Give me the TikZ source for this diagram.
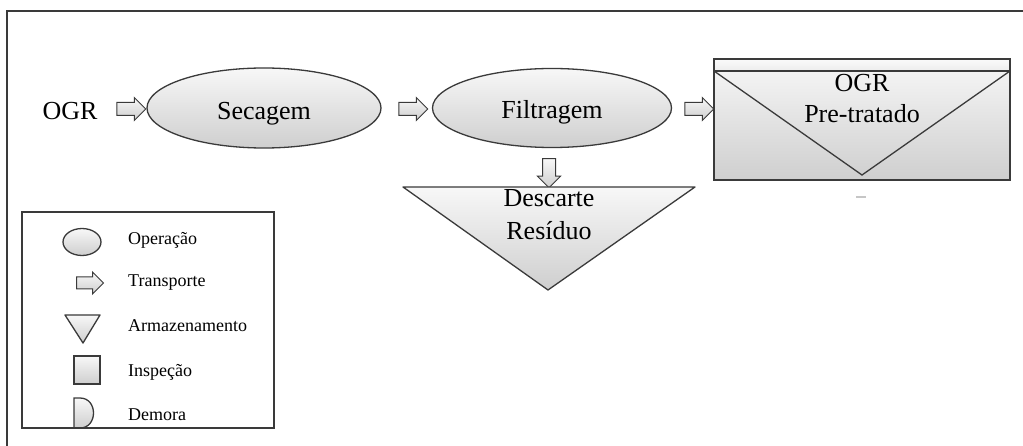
\documentclass[tikz,border=0pt]{standalone}
\usepackage{fontspec}
\setmainfont{Liberation Serif}
\usetikzlibrary{shapes.arrows,shapes.geometric,calc}
\definecolor{edge}{HTML}{3A3A3A}
\tikzset{
  shaded/.style={top color=gray!6, bottom color=gray!38, draw=edge, line width=1.3pt},
  oper/.style={shaded, ellipse, inner sep=0pt},
  transport/.style={single arrow, shaded, line width=1pt, minimum height=29pt,
    inner xsep=0pt, inner ysep=6pt, single arrow head extend=5pt},
  lbl/.style={font=\fontsize{26}{30}\selectfont, anchor=base, inner sep=0pt},
  legtxt/.style={font=\fontsize{18}{20}\selectfont, anchor=base west, inner sep=0pt},
}
\begin{document}
\begin{tikzpicture}[x=1pt,y=-1pt]
\useasboundingbox (0,0) rectangle (1023,446);
% page frame (top and left edges)
\draw[edge, line width=1.6pt] (7,446) -- (7,11) -- (1023,11);

% main flow
\node[lbl] (ogr) at (70,120) {OGR};
\node[oper, minimum width=234pt, minimum height=80pt] (sec) at (264,108) {};
\node[lbl] (sect) at (264,120) {Secagem};
\node[oper, minimum width=239pt, minimum height=79pt] (fil) at (552,108) {};
\node[lbl] (filt) at (552,119) {Filtragem};

\node[transport] (a1) at (128,109) {};
\node[transport] (a2) at (410,109) {};
\node[transport] (a3) at (696,109) {};
\node[transport, rotate=-90] (a4) at (549,170) {};

% storage of residue
\coordinate (dtl) at (403,187);
\coordinate (dtr) at (695,187);
\coordinate (dtb) at (548,290);
\path[shaded, line join=round] (dtl) -- (dtr) -- (dtb) -- cycle;
\node[lbl] (desc) at (549,207) {Descarte};
\node[lbl] (resi) at (549,240) {Resíduo};

% storage of pre-treated product
\coordinate (btl) at (714,59);
\coordinate (bbr) at (1010,180);
\coordinate (bml) at (714,71);
\coordinate (bmr) at (1010,71);
\coordinate (bap) at (862,175);
\path[shaded] (btl) rectangle (bbr);
\path[top color=gray!4, bottom color=gray!14, draw=edge, line width=1.3pt] (btl) rectangle (bmr);
\draw[edge, line width=1.3pt] (bml) -- (bap) -- (bmr);
\node[lbl] (ogr2) at (862,92) {OGR};
\node[lbl] (pret) at (862,123) {Pre-tratado};
\draw[gray!45, line width=2pt] (856,197) -- (866,197);

% legend
\node[oper, minimum width=38pt, minimum height=27pt] (le) at (82,242) {};
\node[transport, minimum height=27pt, inner ysep=5.5pt] (la) at (87,283) {};
\coordinate (ltl) at (65,315);
\coordinate (ltr) at (100,315);
\coordinate (ltb) at (83,343);
\path[shaded, line join=round] (ltl) -- (ltr) -- (ltb) -- cycle;
\path[shaded] (74,356) rectangle (100,384);
\path[shaded] (74,398) -- (80,398) .. controls (98,398) and (98,428) .. (80,428) -- (74,428) -- cycle;
\draw[edge, line width=2pt] (22,212) rectangle (274,428);
\node[legtxt] (t1) at (128,245) {Operação};
\node[legtxt] (t2) at (128,287) {Transporte};
\node[legtxt] (t3) at (128,332) {Armazenamento};
\node[legtxt] (t4) at (128,377) {Inspeção};
\node[legtxt] (t5) at (128,420) {Demora};
\end{tikzpicture}
\end{document}
